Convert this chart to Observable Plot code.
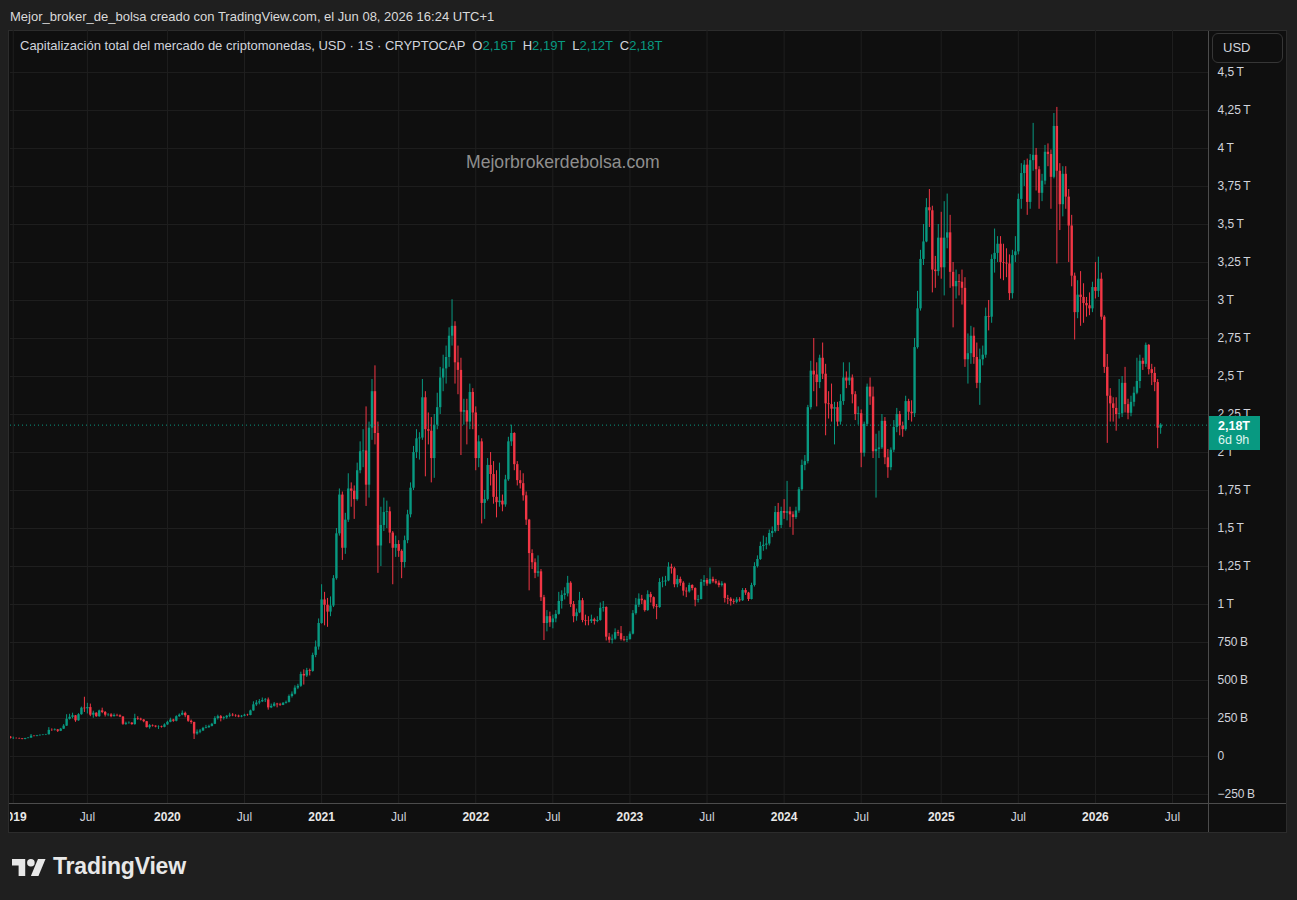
<!DOCTYPE html>
<html lang="es">
<head>
<meta charset="utf-8">
<script src="https://cdn.jsdelivr.net/npm/d3@7"></script>
<script src="https://cdn.jsdelivr.net/npm/@observablehq/plot@0.6"></script>
<style>
  html, body { margin:0; padding:0; width:1297px; height:900px; overflow:hidden; background:#1f1f1f; font-family:"Liberation Sans", Arial, sans-serif; }
  .abs { position:absolute; }
  #header { left:10px; top:9px; font-size:13px; line-height:16px; color:#dadada; white-space:nowrap; }
  #pane { left:9px; top:31px; width:1277px; height:801px; background:#0f0f0f; box-shadow:0 0 0 1px #2c2c2c; }
  #chart { left:10px; top:30px; width:1277px; height:804px; overflow:hidden; }
  #legend { left:20px; top:38px; font-size:13px; line-height:16px; color:#d1d4dc; white-space:nowrap; }
  #legend .v { color:#089981; }
  #legend .k { margin-left:7px; }
  #watermark { left:466px; top:152px; font-size:17.6px; line-height:20px; color:#8e8e8e; white-space:nowrap; }
  #vsep { left:1208px; top:31px; width:1px; height:801px; background:#4c4c4c; }
  #hsep { left:9px; top:803px; width:1277px; height:1px; background:#4c4c4c; }
  #usd { left:1212px; top:33px; width:71px; height:30px; border:1px solid #363636; border-radius:6px; color:#d1d4dc; font-size:13px; line-height:28px; box-sizing:border-box; padding-left:10px; background:#0f0f0f; }
  #price { left:1209px; width:51px; height:34px; background:#089981; color:#ffffff; font-size:12.5px; line-height:14px; padding:3px 0 0 9px; box-sizing:border-box; }
  #price b { font-weight:bold; }
  #price span { color:#dff5ef; }
  #logo { left:12px; top:859px; }
  #tvtext { left:53px; top:852px; font-size:23px; line-height:28px; font-weight:bold; color:#e8e8e8; letter-spacing:-0.2px; }
</style>
</head>
<body>
<div id="header" class="abs">Mejor_broker_de_bolsa creado con TradingView.com, el Jun 08, 2026 16:24 UTC+1</div>
<div id="pane" class="abs"></div>
<div id="chart" class="abs"></div>
<div id="vsep" class="abs"></div>
<div id="hsep" class="abs"></div>
<div id="watermark" class="abs">Mejorbrokerdebolsa.com</div>
<div id="legend" class="abs"></div>
<div id="usd" class="abs">USD</div>
<div id="price" class="abs"></div>
<svg id="logo" class="abs" width="34" height="17" viewBox="0 4 36 18"><path fill="#e8e8e8" d="M14 22H7V11H0V4h14v18z"/><circle fill="#e8e8e8" cx="20" cy="8" r="4"/><path fill="#e8e8e8" d="M28 22h-8l7.5-18h8L28 22z"/></svg>
<div id="tvtext" class="abs">TradingView</div>
<script>
// ---- Weekly candles of CRYPTOCAP:TOTAL, values in billions of USD ----
const firstWeek = "2018-12-31";   // Monday of the first weekly bar
const firstOpen = 128;

const close2019 = [118,119,118,116,112,118,121,134,133,137,139,141,143,172,171,175,166,180,200,245,258,268,235,275,318,314,322,272,285,262,300,290,272,274,262,270,268,260,212,218,220,210,250,246,240,229,190,203,200,194,196,192];
const high2019  = [132,128,122,121,117,120,125,145,138,139,143,144,146,190,182,182,178,185,210,275,278,285,270,282,325,390,350,345,298,288,305,318,296,282,282,280,278,274,262,226,228,223,278,262,252,243,231,210,208,202,202,200];
const low2019   = [115,112,115,113,110,110,117,120,129,130,134,137,138,142,165,168,158,164,178,198,240,248,225,232,272,290,280,262,252,258,258,282,260,262,255,260,262,256,205,205,212,206,206,238,234,222,188,180,194,189,178,187];

const close2020 = [208,225,240,232,262,272,284,268,232,224,148,160,168,185,190,198,212,250,262,250,255,265,272,268,266,260,265,272,270,300,340,352,360,368,372,320,330,345,340,336,350,356,395,410,450,462,540,530,565,560,665,720];
const high2020  = [215,232,252,245,268,280,300,292,270,240,226,175,178,192,205,206,218,262,272,270,262,270,285,282,275,272,270,278,278,305,360,368,375,385,382,385,345,355,350,350,355,365,405,425,465,475,555,570,580,575,680,760];
const low2020   = [189,205,222,225,228,258,268,255,225,212,112,140,150,165,182,185,195,210,240,228,240,245,255,262,258,255,255,262,265,268,298,330,340,355,355,305,315,325,320,330,335,345,352,385,405,440,455,470,520,530,555,650];

const close2021 = [875,1030,995,950,990,1170,1465,1720,1370,1555,1760,1745,1690,1880,2005,2010,1785,2160,2400,2125,1385,1520,1605,1610,1470,1370,1395,1350,1276,1420,1590,1765,2000,2090,2095,2360,2150,2140,1960,2180,2295,2490,2550,2625,2765,2830,2590,2540,2265,2275,2200,2395,2260];
const high2021  = [905,1130,1080,1040,1050,1190,1500,1760,1740,1600,1860,1800,1780,1930,2070,2150,2300,2200,2480,2570,2200,1640,1700,1680,1640,1480,1450,1420,1360,1450,1620,1800,2040,2150,2130,2480,2400,2260,2230,2250,2390,2560,2640,2700,2820,3005,2860,2700,2620,2350,2350,2450,2420];
const low2021   = [700,870,860,850,920,980,1160,1450,1290,1330,1540,1640,1560,1680,1860,1900,1645,1700,2080,2050,1205,1250,1480,1500,1400,1130,1310,1310,1170,1240,1400,1570,1750,1960,1950,2080,1840,2050,1800,1830,2150,2250,2400,2450,2560,2700,2450,2380,1980,2180,2050,2150,2150];

const close2022 = [1960,2070,1665,1690,1915,1855,1705,1670,1680,1655,1820,2070,2125,1920,1815,1795,1715,1555,1335,1275,1205,1215,1045,875,920,880,905,935,1020,1060,1070,1140,1000,920,945,1025,895,890,888,900,888,895,975,980,785,765,772,815,808,770,765,770];
const high2022  = [2300,2110,2090,1750,1960,2000,1940,1880,1930,1720,1850,2100,2180,2130,1940,1880,1860,1740,1560,1360,1300,1320,1230,1060,960,950,930,960,1080,1090,1110,1185,1150,1020,970,1080,1040,930,920,930,910,920,1010,1020,985,810,800,840,830,855,790,790];
const low2022   = [1880,1900,1530,1560,1680,1780,1660,1570,1640,1610,1640,1810,2040,1880,1780,1760,1680,1520,1090,1230,1170,1180,1020,763,820,850,840,880,930,970,1030,1050,980,880,890,940,880,860,860,875,865,880,890,950,760,745,740,765,790,760,755,750];

const close2023 = [805,940,995,1035,1025,960,1065,1045,985,980,1145,1148,1155,1245,1235,1130,1165,1140,1088,1083,1125,1105,1028,1033,1145,1158,1135,1165,1150,1140,1125,1135,1040,1035,1020,1015,1030,1025,1092,1075,1033,1125,1250,1296,1382,1390,1398,1467,1480,1605,1520,1612];
const high2023  = [820,960,1040,1070,1060,1030,1090,1080,1050,1000,1170,1180,1185,1275,1265,1245,1190,1180,1150,1110,1140,1130,1110,1060,1165,1190,1170,1240,1180,1165,1155,1150,1140,1060,1045,1035,1045,1045,1105,1105,1080,1140,1275,1320,1410,1450,1440,1490,1510,1645,1665,1640];
const low2023   = [765,800,930,980,1000,950,955,1010,970,900,975,1110,1120,1150,1200,1110,1110,1120,1055,1045,1075,1090,985,1010,1030,1120,1120,1130,1140,1130,1110,1115,1010,1000,990,1000,1005,1015,1020,1060,1020,1030,1115,1240,1290,1350,1360,1385,1440,1470,1480,1500];

const close2024 = [1600,1610,1590,1572,1615,1755,1915,1940,2295,2535,2510,2460,2620,2515,2320,2315,2285,2295,2200,2335,2490,2470,2490,2380,2250,2255,1995,2185,2430,2365,2005,2020,2030,2205,1965,1900,2015,2165,2250,2175,2150,2335,2265,2255,2690,2945,3270,3385,3610,3590,3200,3190,3410];
const high2024  = [1690,1810,1640,1610,1640,1770,1950,1980,2310,2600,2750,2590,2640,2720,2580,2400,2450,2330,2330,2380,2590,2530,2590,2510,2400,2300,2280,2200,2450,2490,2430,2120,2140,2250,2230,2020,2030,2210,2290,2270,2200,2370,2350,2340,2750,3060,3330,3500,3670,3730,3620,3290,3500];
const low2024   = [1560,1550,1505,1455,1560,1600,1745,1880,1925,2280,2400,2300,2420,2480,2110,2220,2200,2050,2170,2180,2310,2420,2440,2320,2210,2180,1900,1970,2170,2310,1960,1700,1960,2020,1920,1830,1880,2000,2130,2110,2100,2140,2210,2200,2230,2680,2930,3230,3380,3480,3050,3080,3160];

const close2025 = [3215,3410,3445,3185,3090,3125,3120,3080,2610,2650,2765,2625,2455,2610,2640,2895,2890,3270,3310,3370,3250,3245,3240,3045,3295,3320,3665,3835,3890,3645,3920,3955,3860,3705,3785,3975,3960,3810,4145,3850,3630,3830,3680,3490,3160,2920,3035,3020,2980,2965,2945,3085];
const high2025  = [3580,3650,3700,3560,3250,3200,3170,3200,3150,2780,2830,2820,2720,2680,2700,2950,3000,3300,3470,3420,3420,3370,3340,3300,3330,3420,3700,3900,3920,3930,3960,4165,4000,3880,3830,4020,4030,3990,4230,4270,3900,3880,3880,3730,3560,3180,3130,3190,3110,3020,3050,3120];
const low2025   = [3140,3030,3340,3080,2820,3010,3030,2970,2560,2450,2580,2580,2420,2310,2570,2620,2800,2850,3180,3250,3140,3130,3150,3000,3010,3250,3300,3600,3750,3560,3600,3850,3720,3600,3650,3760,3880,3600,3800,3240,3460,3550,3600,3250,3090,2740,2880,2830,2850,2890,2900,2920];

const close2026 = [3060,3140,2890,2560,2370,2320,2290,2250,2255,2455,2315,2258,2330,2390,2467,2600,2580,2705,2545,2520,2460,2160,2180];
const high2026  = [3250,3285,3180,2900,2645,2420,2360,2360,2480,2500,2560,2350,2370,2430,2620,2640,2620,2720,2710,2580,2560,2480,2190];
const low2026   = [3010,3020,2870,2520,2060,2200,2200,2140,2220,2230,2260,2215,2235,2300,2380,2420,2540,2560,2510,2440,2400,2025,2120];

// ---- Axis ticks ----
const yTicks = [-250,0,250,500,750,1000,1250,1500,1750,2000,2250,2500,2750,3000,3250,3500,3750,4000,4250,4500];
const yearStarts  = ["2019-01-01","2020-01-01","2021-01-01","2022-01-01","2023-01-01","2024-01-01","2025-01-01","2026-01-01"];
const yearLabels  = ["2019","2020","2021","2022","2023","2024","2025","2026"];
const julyStarts  = ["2019-07-01","2020-07-01","2021-07-01","2022-07-01","2023-07-01","2024-07-01","2025-07-01","2026-07-01"];
const julyLabels  = ["Jul","Jul","Jul","Jul","Jul","Jul","Jul","Jul"];
const xDomain = ["2018-12-31T12:00:00Z","2026-09-29T00:00:00Z"];
const yDomain = [-309, 4776];

const up = "#089981", down = "#f23645";

const closes = [].concat(close2019, close2020, close2021, close2022, close2023, close2024, close2025, close2026);
const highs  = [].concat(high2019, high2020, high2021, high2022, high2023, high2024, high2025, high2026);
const lows   = [].concat(low2019, low2020, low2021, low2022, low2023, low2024, low2025, low2026);
const t0 = new Date(firstWeek + "T00:00:00Z");
const candles = closes.map((c, i) => ({
  date: d3.utcDay.offset(t0, 7 * i),
  open: i ? closes[i - 1] : firstOpen,
  close: c, high: highs[i], low: lows[i]
}));
candles.forEach(d => d.color = d.close >= d.open ? up : down);
const last = candles[candles.length - 1];

// ticks sit on the first weekly bar of each period
const firstBar = s => d3.utcMonday.ceil(new Date(s + "T00:00:00Z"));
const yearTicks = yearStarts.map(firstBar);
const julyTicks = julyStarts.map(firstBar);
const yearLab = new Map(yearTicks.map((t, i) => [+t, yearLabels[i]]));
const julyLab = new Map(julyTicks.map((t, i) => [+t, julyLabels[i]]));

const fmtAxis = v => {
  if (v === 0) return "0";
  const s = v < 0 ? "\u2212" : "";
  const a = Math.abs(v);
  return a >= 1000 ? s + String(a / 1000).replace(".", ",") + "\u2009T" : s + a + "\u2009B";
};
const fmtT = v => (v / 1000).toFixed(2).replace(".", ",") + "T";

const chart = Plot.plot({
  width: 1277, height: 804,
  marginLeft: 0, marginRight: 79, marginTop: 0, marginBottom: 31,
  style: { background: "transparent", color: "#d1d4dc", fontFamily: "Liberation Sans, Arial, sans-serif", fontSize: "12px", overflow: "visible" },
  x: { type: "utc", domain: xDomain.map(s => new Date(s)) },
  y: { domain: yDomain },
  marks: [
    Plot.gridY(yTicks, { stroke: "#1f1f1f", strokeOpacity: 1 }),
    Plot.gridX(yearTicks.concat(julyTicks), { stroke: "#1f1f1f", strokeOpacity: 1 }),
    Plot.ruleX(candles, { x: "date", y1: "low", y2: "high", stroke: "color", strokeWidth: 1 }),
    Plot.ruleX(candles, { x: "date", y1: "open", y2: "close", stroke: "color", strokeWidth: 2.4 }),
    Plot.ruleY([last.close], { stroke: up, strokeDasharray: "1,3", strokeWidth: 1 }),
    Plot.axisY(yTicks, { anchor: "right", tickSize: 0, tickPadding: 9, tickFormat: fmtAxis, fill: "#d1d4dc", fontSize: 12, label: null }),
    Plot.axisX(yearTicks, { anchor: "bottom", tickSize: 0, tickPadding: 9, tickFormat: d => yearLab.get(+d), fill: "#e8e8e8", fontWeight: "bold", fontSize: 12, label: null }),
    Plot.axisX(julyTicks, { anchor: "bottom", tickSize: 0, tickPadding: 9, tickFormat: d => julyLab.get(+d), fill: "#d1d4dc", fontSize: 12, label: null })
  ]
});
document.getElementById("chart").appendChild(chart);

// legend with last bar OHLC
document.getElementById("legend").innerHTML =
  "Capitalización total del mercado de criptomonedas, USD · 1S · CRYPTOCAP" +
  `<span class="k">O</span><span class="v">${fmtT(last.open)}</span>` +
  `<span class="k">H</span><span class="v">${fmtT(last.high)}</span>` +
  `<span class="k">L</span><span class="v">${fmtT(last.low)}</span>` +
  `<span class="k">C</span><span class="v">${fmtT(last.close)}</span>`;

// last price label on the price scale
const py = chart.scale("y").apply(last.close) + 30;
const price = document.getElementById("price");
price.style.top = (py - 9) + "px";
price.innerHTML = `<b>${fmtT(last.close)}</b><br><span>6d 9h</span>`;
</script>
</body>
</html>
